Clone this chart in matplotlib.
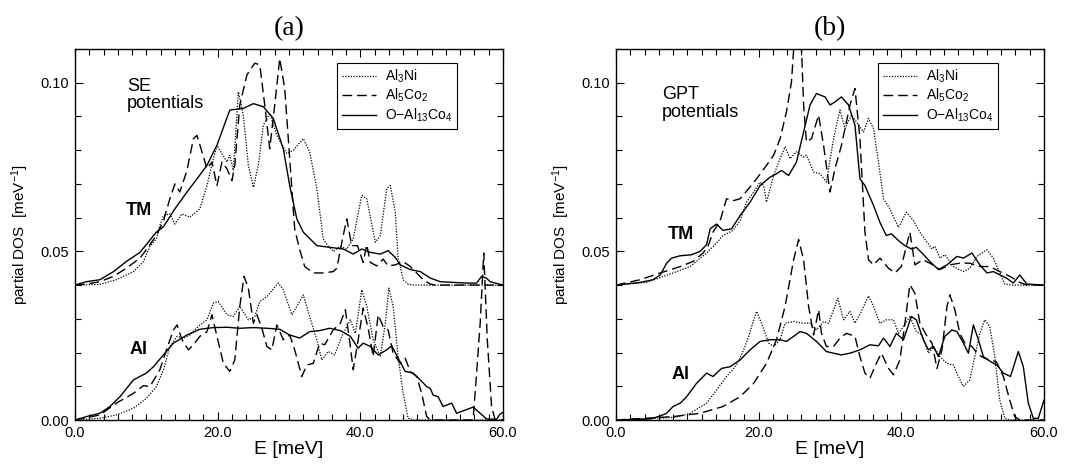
# coding=utf-8
import numpy as np
import matplotlib
matplotlib.use("Agg")
import matplotlib.pyplot as plt
from matplotlib.ticker import MultipleLocator, FormatStrFormatter

plt.rcParams['font.family'] = ['Liberation Sans', 'DejaVu Sans']
plt.rcParams['mathtext.default'] = 'regular'

# partial DOS, (E [meV], DOS [1/meV]) pairs
# TM curves are stored unshifted, they get TM_SHIFT added when drawn
TM_SHIFT = 0.04

# ---- (a) SE potentials ----
se_tm_ni = [(0, 0), (3.5, 0.0002), (5.8, 0.0016), (8.2, 0.004), (9.6, 0.007), (10.5, 0.0115),
            (11.4, 0.0137), (11.9, 0.0177), (12.4, 0.0206), (13.3, 0.0211), (14.0, 0.0181),
            (15.0, 0.0211), (16.1, 0.0201), (17.5, 0.0226), (18.5, 0.0295), (19.4, 0.0375),
            (19.9, 0.0414), (20.6, 0.039), (21.3, 0.0365), (21.7, 0.0385), (22.2, 0.034),
            (22.9, 0.0573), (23.6, 0.0504), (24.3, 0.0355), (25.0, 0.029), (25.7, 0.0355),
            (26.4, 0.0474), (27.3, 0.0509), (28.3, 0.0444), (29.7, 0.039), (30.6, 0.04),
            (32.0, 0.0434), (32.9, 0.0395), (33.9, 0.0286), (34.8, 0.0137), (35.5, 0.0115),
            (36.2, 0.01), (37.2, 0.0115), (38.1, 0.0107), (39.0, 0.0137), (40.2, 0.0266),
            (40.9, 0.0256), (42.1, 0.0127), (42.8, 0.0147), (43.7, 0.0286), (44.2, 0.0295),
            (44.9, 0.0216), (45.3, 0.0077), (45.6, 0.0055), (46.0, 0.0016), (46.7, 0.0003),
            (47.5, 0), (60, 0)]
se_tm_co2 = [(0, 0), (1.6, 0.0003), (3.5, 0.001), (5.4, 0.0026), (7.2, 0.005), (9.1, 0.008),
             (10.0, 0.0105), (11.4, 0.0147), (12.4, 0.019), (13.3, 0.0256), (14.0, 0.030),
             (14.7, 0.0276), (15.7, 0.034), (16.6, 0.0434), (17.1, 0.0444), (17.8, 0.0395),
             (18.5, 0.0345), (19.2, 0.0365), (19.9, 0.0295), (20.6, 0.0365), (21.3, 0.0345),
             (22.0, 0.031), (22.4, 0.0355), (23.1, 0.0534), (24.1, 0.0623), (25.2, 0.0658),
             (25.9, 0.0653), (26.6, 0.0534), (27.3, 0.0404), (28.0, 0.0534), (28.7, 0.0672),
             (29.4, 0.0583), (30.1, 0.0375), (30.8, 0.0166), (31.5, 0.0105), (32.2, 0.0055),
             (33.4, 0.0036), (34.8, 0.0036), (36.2, 0.004), (36.7, 0.005), (37.6, 0.0147),
             (38.1, 0.0196), (38.8, 0.0117), (39.6, 0.0117), (40.4, 0.0067), (40.9, 0.012),
             (41.4, 0.0067), (42.3, 0.0057), (43.2, 0.0077), (43.9, 0.0057), (44.9, 0.006),
             (46.0, 0.007), (47.0, 0.0055), (47.9, 0.0036), (48.8, 0.0016), (49.8, 0.0003),
             (50.5, 0), (60, 0)]
se_tm_co4 = [(0, 0), (1.6, 0.001), (3.5, 0.0016), (5.4, 0.004), (7.2, 0.007), (9.1, 0.0097),
             (10.0, 0.012), (11.4, 0.0157), (12.4, 0.0173), (14.0, 0.0226), (15.7, 0.0276),
             (17.1, 0.0315), (18.5, 0.0355), (19.9, 0.0415), (21.7, 0.0519), (23.6, 0.0524),
             (25.0, 0.0538), (26.4, 0.0529), (27.8, 0.0494), (29.2, 0.0404), (30.1, 0.0295),
             (31.1, 0.0196), (32.0, 0.0157), (33.9, 0.0117), (35.7, 0.0112), (37.6, 0.0107),
             (39.0, 0.0092), (40.2, 0.0107), (41.4, 0.0097), (42.8, 0.0092), (43.9, 0.0102),
             (44.9, 0.0082), (45.6, 0.006), (47.0, 0.0046), (48.4, 0.004), (49.8, 0.0021),
             (51.2, 0.001), (54.9, 0.0006), (56.3, 0.0006), (57.0, 0.0026), (57.7, 0.002),
             (58.2, 0.001), (60, 0)]

se_al_ni = [(0, 0), (3.5, 0.0005), (5.8, 0.0015), (8.2, 0.0035), (10.0, 0.0064), (11.4, 0.0099),
            (12.4, 0.0149), (13.3, 0.0218), (14.3, 0.0248), (15.2, 0.0243), (16.1, 0.0252),
            (17.5, 0.0282), (18.5, 0.0297), (19.4, 0.0347), (20.1, 0.0351), (21.3, 0.0312),
            (22.2, 0.0307), (23.1, 0.0337), (24.3, 0.0297), (25.2, 0.0307), (25.9, 0.0351),
            (26.9, 0.0366), (28.5, 0.0406), (29.2, 0.0386), (30.4, 0.0312), (31.1, 0.0337),
            (32.0, 0.0371), (32.9, 0.0307), (33.9, 0.0238), (34.6, 0.0178), (35.5, 0.0203),
            (36.4, 0.0193), (37.4, 0.0248), (38.6, 0.0297), (39.3, 0.0257), (40.2, 0.0386),
            (40.9, 0.0337), (41.8, 0.0238), (42.8, 0.0188), (43.5, 0.0287), (44.0, 0.0391),
            (44.6, 0.0337), (45.3, 0.0188), (46.0, 0.0079), (46.7, 0.0005), (47.5, 0), (60, 0)]
se_al_co2 = [(0, 0), (3.5, 0.0015), (5.8, 0.005), (8.2, 0.0079), (9.6, 0.0102), (10.5, 0.0099),
             (11.9, 0.0149), (12.9, 0.0213), (13.8, 0.0267), (14.3, 0.0282), (15.0, 0.0238),
             (15.9, 0.0208), (16.6, 0.0223), (17.5, 0.0248), (18.5, 0.0262), (19.2, 0.0312),
             (19.9, 0.0248), (20.8, 0.0168), (21.7, 0.0144), (22.4, 0.0178), (23.1, 0.0337),
             (23.7, 0.0426), (24.3, 0.0391), (25.0, 0.0287), (25.5, 0.0312), (26.2, 0.0272),
             (26.9, 0.0218), (27.6, 0.0208), (28.3, 0.0282), (29.2, 0.0238), (30.1, 0.0252),
             (30.8, 0.0208), (31.8, 0.0129), (32.5, 0.0163), (33.4, 0.0168), (34.3, 0.0228),
             (35.0, 0.0223), (36.2, 0.0267), (37.2, 0.0287), (37.9, 0.0327), (38.6, 0.0218),
             (39.0, 0.0149), (39.7, 0.0238), (40.4, 0.0332), (41.1, 0.0272), (41.8, 0.0188),
             (42.5, 0.0312), (43.2, 0.0277), (43.9, 0.0267), (44.6, 0.0198), (45.6, 0.0168),
             (46.3, 0.0183), (47.0, 0.0144), (47.9, 0.0129), (48.6, 0.0079), (49.3, 0.001),
             (49.8, 0), (55.8, 0), (56.3, 0.0139), (56.8, 0.0287), (57.3, 0.0495), (57.8, 0.0238),
             (58.4, 0.004), (58.9, 0), (60, 0)]
se_al_co4 = [(0, 0), (1.6, 0.001), (3.5, 0.002), (4.9, 0.004), (6.3, 0.0069), (8.2, 0.0119),
             (10.0, 0.0139), (11.0, 0.0158), (12.4, 0.0193), (13.8, 0.0228), (15.7, 0.0252),
             (17.5, 0.0269), (19.4, 0.0274), (21.3, 0.0275), (23.1, 0.0272), (25.0, 0.0274),
             (26.9, 0.0272), (28.7, 0.0269), (30.1, 0.0252), (31.5, 0.0243), (32.9, 0.0262),
             (34.3, 0.0265), (35.7, 0.0272), (37.2, 0.0265), (38.6, 0.0248), (39.7, 0.0213),
             (40.4, 0.0228), (41.4, 0.0218), (42.5, 0.0193), (43.7, 0.0208), (44.4, 0.022),
             (45.3, 0.0183), (46.3, 0.0144), (47.4, 0.0139), (48.4, 0.0119), (49.3, 0.0099),
             (49.8, 0.0094), (50.2, 0.0074), (50.9, 0.0069), (51.6, 0.004), (52.8, 0.005),
             (53.5, 0.002), (55.8, 0.0038), (56.8, 0.002), (57.7, 0.0003), (59.1, 0.0002),
             (59.6, 0.0018), (60, 0.0022)]

# ---- (b) GPT potentials ----
gpt_tm_ni = [(0, 0), (4.3, 0.0008), (8.0, 0.0036), (10.4, 0.0055), (12.7, 0.0095), (14.1, 0.0125),
             (15.0, 0.0147), (16.4, 0.0162), (17.4, 0.0191), (18.3, 0.0246), (19.3, 0.0276),
             (20.2, 0.0305), (20.7, 0.0295), (21.1, 0.0246), (22.1, 0.0325), (23.0, 0.0375),
             (23.7, 0.041), (24.4, 0.0375), (25.3, 0.0395), (26.3, 0.038), (26.7, 0.0385),
             (27.7, 0.0335), (28.6, 0.033), (29.5, 0.0305), (30.5, 0.0434), (31.4, 0.0519),
             (32.1, 0.0464), (33.0, 0.0504), (33.7, 0.0484), (34.7, 0.0454), (35.4, 0.0494),
             (36.1, 0.0464), (36.8, 0.0365), (37.5, 0.0256), (38.4, 0.0226), (39.6, 0.0171),
             (40.7, 0.0216), (41.7, 0.0191), (42.6, 0.0157), (43.6, 0.0127), (44.3, 0.0107),
             (44.7, 0.0115), (45.4, 0.008), (46.1, 0.009), (47.3, 0.0055), (48.7, 0.004),
             (49.6, 0.005), (50.6, 0.0085), (52.0, 0.0105), (52.9, 0.008), (53.8, 0.0036),
             (54.5, 0.0003), (55.5, 0), (60, 0)]
gpt_tm_co2 = [(0, 0), (3.4, 0.0016), (6.2, 0.0036), (9.0, 0.0055), (10.8, 0.007), (12.2, 0.0095),
              (12.9, 0.0115), (13.6, 0.0157), (14.6, 0.0191), (15.5, 0.0256), (16.4, 0.025),
              (17.4, 0.0256), (18.6, 0.0286), (19.7, 0.0315), (21.1, 0.0355), (22.1, 0.0385),
              (23.0, 0.0434), (23.9, 0.0514), (24.6, 0.0603), (25.1, 0.076), (25.5, 0.08),
              (25.9, 0.076), (26.3, 0.0534), (26.7, 0.0424), (27.4, 0.0434), (28.4, 0.0504),
              (29.1, 0.0414), (30.0, 0.0276), (30.7, 0.0345), (31.6, 0.0414), (32.8, 0.0534),
              (33.5, 0.0583), (34.2, 0.0434), (34.9, 0.0157), (35.4, 0.0075), (36.1, 0.006),
              (37.0, 0.008), (38.2, 0.005), (39.1, 0.0036), (40.0, 0.0055), (40.7, 0.0115),
              (41.2, 0.0157), (41.9, 0.006), (43.0, 0.0075), (44.0, 0.0065), (45.4, 0.0046),
              (46.8, 0.006), (48.2, 0.0065), (49.6, 0.0065), (51.0, 0.0055), (52.4, 0.0055),
              (53.8, 0.004), (55.2, 0.0026), (56.6, 0.0008), (57.6, 0), (60, 0)]
gpt_tm_co4 = [(0, 0), (3.4, 0.0008), (5.2, 0.0016), (6.2, 0.003), (7.1, 0.0065), (7.8, 0.008),
              (9.0, 0.0087), (10.6, 0.009), (11.8, 0.01), (12.7, 0.012), (13.2, 0.0167),
              (14.1, 0.0181), (15.0, 0.0162), (16.2, 0.0167), (17.4, 0.0206), (18.8, 0.0246),
              (20.2, 0.0295), (21.6, 0.032), (22.5, 0.033), (23.2, 0.034), (24.2, 0.0325),
              (25.3, 0.0365), (26.3, 0.0454), (27.2, 0.0534), (28.1, 0.0568), (29.3, 0.0558),
              (30.0, 0.0534), (30.7, 0.0543), (31.6, 0.0558), (32.6, 0.0534), (33.5, 0.0474),
              (34.2, 0.0315), (34.9, 0.0295), (36.1, 0.0236), (37.0, 0.0186), (37.9, 0.0147),
              (38.6, 0.0152), (39.6, 0.0132), (40.5, 0.0117), (41.4, 0.0107), (42.1, 0.0112),
              (42.9, 0.0095), (44.0, 0.007), (45.2, 0.0046), (46.4, 0.006), (47.8, 0.0085),
              (48.7, 0.008), (49.9, 0.0095), (51.0, 0.006), (52.0, 0.0036), (52.9, 0.004),
              (54.8, 0.002), (55.7, 0.0006), (56.6, 0.003), (57.6, 0.0003), (60, 0)]

gpt_al_ni = [(0, 0), (8.4, 0.0008), (10.4, 0.002), (12.7, 0.005), (14.1, 0.0089), (15.5, 0.0129),
             (16.9, 0.0163), (17.9, 0.0208), (18.6, 0.0248), (19.3, 0.0297), (19.7, 0.0322),
             (20.4, 0.0287), (21.4, 0.0228), (22.1, 0.0218), (23.0, 0.0238), (23.7, 0.0287),
             (24.9, 0.0292), (26.3, 0.0287), (27.2, 0.0287), (28.1, 0.0267), (29.1, 0.0292),
             (29.8, 0.0287), (30.5, 0.0327), (31.1, 0.0361), (31.9, 0.0297), (32.8, 0.0322),
             (33.5, 0.0287), (34.4, 0.0322), (35.4, 0.0368), (36.1, 0.0337), (37.0, 0.0287),
             (37.9, 0.0297), (38.9, 0.0297), (39.6, 0.0257), (40.3, 0.0277), (41.2, 0.0307),
             (42.1, 0.0262), (42.9, 0.0252), (43.8, 0.0198), (44.5, 0.0218), (45.4, 0.0188),
             (46.4, 0.0168), (47.3, 0.0163), (48.0, 0.0129), (48.7, 0.0099), (49.6, 0.0119),
             (50.3, 0.0188), (51.0, 0.0257), (51.7, 0.0297), (52.4, 0.0277), (53.1, 0.0188),
             (53.8, 0.0059), (54.5, 0.0005), (55.2, 0), (60, 0)]
gpt_al_co2 = [(0, 0), (8.0, 0.001), (11.8, 0.002), (15.0, 0.004), (17.4, 0.0069), (19.3, 0.0109),
              (21.1, 0.0168), (22.5, 0.0238), (23.7, 0.0337), (24.9, 0.0475), (25.6, 0.0535),
              (26.3, 0.0475), (27.0, 0.0337), (27.7, 0.0252), (28.4, 0.0327), (28.8, 0.0257),
              (29.5, 0.0218), (30.5, 0.0218), (31.4, 0.0243), (32.3, 0.0257), (33.5, 0.0248),
              (34.2, 0.0188), (34.9, 0.0139), (35.6, 0.0124), (36.5, 0.0168), (37.2, 0.0198),
              (38.2, 0.0153), (38.9, 0.0134), (39.8, 0.0178), (40.5, 0.0287), (41.2, 0.0401),
              (41.9, 0.0376), (42.6, 0.0287), (43.6, 0.0248), (44.3, 0.0228), (45.0, 0.0153),
              (45.7, 0.0208), (46.4, 0.0337), (46.8, 0.0371), (47.5, 0.0327), (48.2, 0.0257),
              (48.9, 0.0228), (49.9, 0.0218), (50.8, 0.0193), (51.7, 0.0183), (52.4, 0.0178),
              (53.3, 0.0173), (54.3, 0.0129), (55.2, 0.0059), (55.9, 0.001), (56.6, 0), (60, 0)]
gpt_al_co4 = [(0, 0), (4.8, 0.0003), (6.2, 0.0012), (7.1, 0.002), (8.0, 0.004), (9.0, 0.005),
              (9.9, 0.0069), (11.3, 0.0109), (12.7, 0.0139), (13.6, 0.0129), (14.8, 0.0153),
              (16.0, 0.0158), (17.4, 0.0178), (18.8, 0.0208), (20.2, 0.0233), (21.6, 0.0238),
              (23.0, 0.0238), (23.9, 0.0233), (24.9, 0.0248), (25.8, 0.0262), (26.7, 0.0257),
              (28.1, 0.0233), (29.5, 0.0203), (30.5, 0.0198), (31.6, 0.0193), (32.8, 0.0198),
              (34.2, 0.0208), (35.6, 0.0223), (36.8, 0.022), (37.5, 0.0243), (38.4, 0.0218),
              (39.3, 0.0257), (40.3, 0.0238), (41.4, 0.0307), (42.1, 0.0297), (43.1, 0.0238),
              (43.8, 0.0208), (44.5, 0.0218), (45.2, 0.0188), (46.1, 0.0248), (47.1, 0.0267),
              (47.8, 0.0262), (48.7, 0.0228), (49.4, 0.0198), (50.1, 0.0282), (50.8, 0.0238),
              (51.5, 0.0188), (52.5, 0.0173), (53.4, 0.0163), (54.3, 0.0139), (55.3, 0.0129),
              (56.4, 0.0203), (57.1, 0.0158), (57.8, 0.005), (58.5, 0.0005), (59.2, 0.0005),
              (60, 0.0059)]

legend_labels = [r'Al$_3$Ni', r'Al$_5$Co$_2$', r'O$-$Al$_{13}$Co$_4$']
panel_titles = ['(a)', '(b)']
panel_notes = ['SE\npotentials', 'GPT\npotentials']

styles = [dict(ls=(0, (1, 1.2)), lw=0.9),
          dict(ls=(0, (7, 3.5)), lw=1.0),
          dict(ls='-', lw=1.0)]

panels = [
    dict(tm=[se_tm_ni, se_tm_co2, se_tm_co4], al=[se_al_ni, se_al_co2, se_al_co4],
         left=75, note_x=7.3, note_y=0.1015, tm_xy=(9.0, 0.062), al_xy=(8.9, 0.021)),
    dict(tm=[gpt_tm_ni, gpt_tm_co2, gpt_tm_co4], al=[gpt_al_ni, gpt_al_co2, gpt_al_co4],
         left=616, note_x=6.4, note_y=0.099, tm_xy=(9.1, 0.055), al_xy=(9.1, 0.0135)),
]

W, H = 1080, 468
fig = plt.figure(figsize=(W / 100.0, H / 100.0), dpi=100)

for k, p in enumerate(panels):
    ax = fig.add_axes([p['left'] / W, 1 - 420.0 / H, 428.0 / W, 371.0 / H])

    for curve, st, lab in zip(p['tm'], styles, legend_labels):
        e, v = np.array(curve).T
        ax.plot(e, v + TM_SHIFT, color='black', label=lab, **st)
    for curve, st in zip(p['al'], styles):
        e, v = np.array(curve).T
        ax.plot(e, v, color='black', **st)

    ax.set_xlim(0, 60)
    ax.set_ylim(0, 0.11)
    ax.xaxis.set_major_locator(MultipleLocator(20))
    ax.xaxis.set_minor_locator(MultipleLocator(2))
    ax.yaxis.set_major_locator(MultipleLocator(0.05))
    ax.yaxis.set_minor_locator(MultipleLocator(0.01))
    ax.xaxis.set_major_formatter(FormatStrFormatter('%.1f'))
    ax.yaxis.set_major_formatter(FormatStrFormatter('%.2f'))
    ax.tick_params(which='both', direction='in', top=True, right=True, width=0.8)
    ax.tick_params(which='major', length=6, labelsize=10.5, pad=4)
    ax.tick_params(which='minor', length=4)
    for s in ax.spines.values():
        s.set_linewidth(1.0)

    ax.set_xlabel('E [meV]', fontsize=14, labelpad=1)
    ax.set_ylabel(r'partial DOS  [meV$^{-1}$]', fontsize=11, labelpad=7)
    ax.set_title(panel_titles[k], fontsize=20, family=['Liberation Serif'], pad=10)

    ax.text(p['note_x'], p['note_y'], panel_notes[k], fontsize=13,
            va='top', ha='left', linespacing=1.05)
    ax.text(p['tm_xy'][0], p['tm_xy'][1], 'TM', fontsize=13, weight='bold',
            ha='center', va='center')
    ax.text(p['al_xy'][0], p['al_xy'][1], 'Al', fontsize=13, weight='bold',
            ha='center', va='center')

    leg = ax.legend(loc='upper right', bbox_to_anchor=(0.893, 0.963), fontsize=10,
                    frameon=True, fancybox=False, framealpha=1, edgecolor='black',
                    handlelength=2.5, borderpad=0.35, labelspacing=0.15,
                    handletextpad=0.6, borderaxespad=0)
    leg.get_frame().set_linewidth(0.8)

fig.savefig('out.png', dpi=100)
